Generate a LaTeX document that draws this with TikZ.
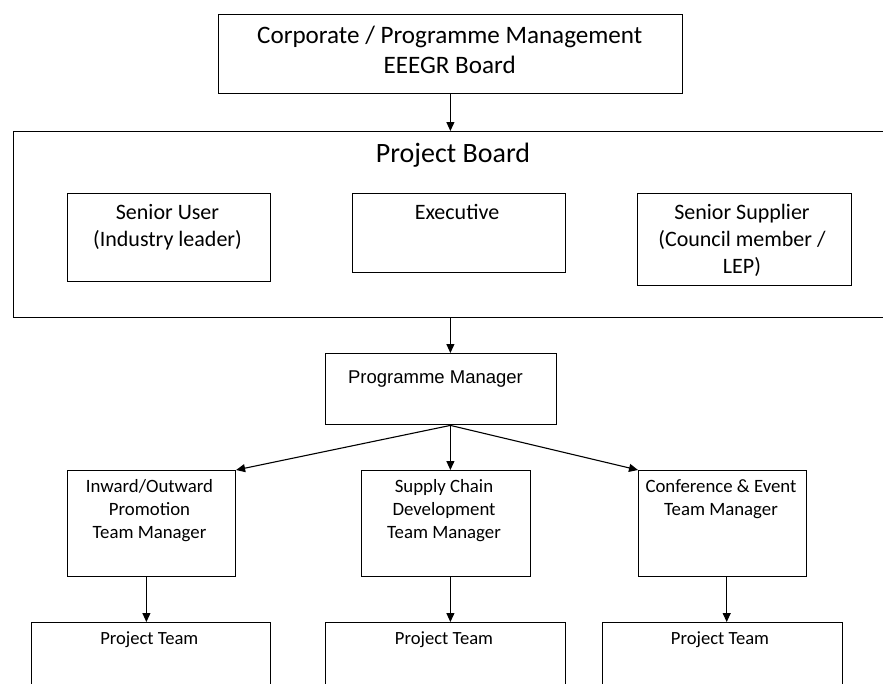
\documentclass[tikz,border=0pt]{standalone}
\usepackage{fontspec}
\setmainfont{Carlito}
\newfontfamily\arialfont{Liberation Sans}
\usetikzlibrary{arrows.meta}
\begin{document}
\begin{tikzpicture}[x=1pt,y=-1pt,
  box/.style={draw, line width=1.4pt, anchor=north west, inner sep=0pt},
  lbl/.style={anchor=base, align=center, inner sep=0pt},
  arr/.style={-{Triangle[length=9pt,width=8pt]}, line width=1.1pt}]
\useasboundingbox (0,0) rectangle (883,683);
% boxes
\node[box, minimum width=464pt, minimum height=79pt] (corp) at (217.7,14) {};
\node[box, minimum width=900pt, minimum height=186pt] (pb) at (13,131) {};
\node[box, minimum width=203pt, minimum height=88pt] (su) at (66.7,193) {};
\node[box, minimum width=213pt, minimum height=79pt] (exec) at (352,193) {};
\node[box, minimum width=214pt, minimum height=92pt] (ss) at (637,193) {};
\node[box, minimum width=231pt, minimum height=71pt] (pm) at (325,353) {};
\node[box, minimum width=168pt, minimum height=106pt] (inw) at (66.7,470) {};
\node[box, minimum width=169pt, minimum height=106pt] (sc) at (360.5,470) {};
\node[box, minimum width=168pt, minimum height=106pt] (conf) at (638,470) {};
\node[box, minimum width=239pt, minimum height=90pt] (ptl) at (31,622) {};
\node[box, minimum width=240pt, minimum height=90pt] (ptm) at (325,622) {};
\node[box, minimum width=240pt, minimum height=90pt] (ptr) at (601.7,622) {};
% texts (anchored at the baseline of the last line)
\node[lbl, font=\fontsize{25.1}{30}\selectfont] (corptxt) at (449.7,73) {Corporate / Programme Management\\EEEGR Board};
\node[lbl, font=\fontsize{28}{33}\selectfont] (pbtxt) at (453,162) {Project Board};
\node[lbl, font=\fontsize{22}{27.5}\selectfont] (sutxt) at (167.5,246.5) {Senior User\\(Industry leader)};
\node[lbl, font=\fontsize{22}{27.5}\selectfont] (exectxt) at (457,219) {Executive};
\node[lbl, font=\fontsize{22}{27}\selectfont] (sstxt) at (742,273) {Senior Supplier\\(Council member /\\LEP)};
\node[lbl, font=\arialfont\fontsize{18.5}{22}\selectfont] (pmtxt) at (435.5,383) {Programme Manager};
\node[lbl, font=\fontsize{18.8}{23}\selectfont] (inwtxt) at (149.5,538) {Inward/Outward\\Promotion\\Team Manager};
\node[lbl, font=\fontsize{18.8}{23}\selectfont] (sctxt) at (444,538) {Supply Chain\\Development\\Team Manager};
\node[lbl, font=\fontsize{18.8}{23}\selectfont] (conftxt) at (721,515) {Conference \& Event\\Team Manager};
\node[lbl, font=\fontsize{18.6}{23}\selectfont] (ptltxt) at (149.3,644) {Project Team};
\node[lbl, font=\fontsize{18.6}{23}\selectfont] (ptmtxt) at (444,644) {Project Team};
\node[lbl, font=\fontsize{18.6}{23}\selectfont] (ptrtxt) at (720,644) {Project Team};
% arrows
\draw[arr] (corp.south) -- (corp.south |- pb.north);
\draw[arr] (corp.south |- pb.south) -- (corp.south |- pm.north);
\coordinate (pmout) at (corp.south |- pm.south);
\draw[arr] (pmout) -- (inw.north east);
\draw[arr] (pmout) -- (pmout |- sc.north);
\draw[arr] (pmout) -- (conf.north west);
\draw[arr] ([xshift=-5pt]inw.south) -- ([xshift=-5pt]inw.south |- ptl.north);
\draw[arr] (pmout |- sc.south) -- (pmout |- ptm.north);
\draw[arr] ([xshift=4pt]conf.south) -- ([xshift=4pt]conf.south |- ptr.north);
\end{tikzpicture}
\end{document}
